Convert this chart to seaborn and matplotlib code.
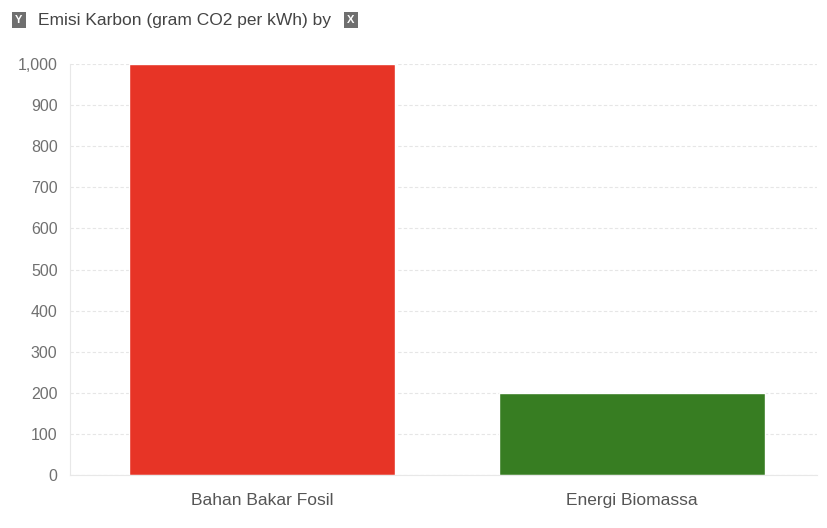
import matplotlib
matplotlib.use("Agg")
import matplotlib.pyplot as plt
import seaborn as sns
import pandas as pd
from matplotlib.ticker import FuncFormatter

categories = ["Bahan Bakar Fosil", "Energi Biomassa"]
emisi = [1000, 200]
colors = ["#E73426", "#377D22"]

df = pd.DataFrame({"sumber": categories, "emisi": emisi})

sns.set_style("white")
plt.rcParams['font.family'] = ['Liberation Sans', 'DejaVu Sans']

fig = plt.figure(figsize=(8.27, 5.28), dpi=100)
ax = fig.add_axes([70 / 827, 1 - 475 / 528, (817 - 70) / 827, (475 - 64) / 528])

sns.barplot(data=df, x="sumber", y="emisi", hue="sumber", palette=colors,
            width=0.72, saturation=1, legend=False, ax=ax)

ax.set_ylim(0, 1000)
ax.set_xlim(-0.519, 1.5)
ax.set_yticks(range(0, 1001, 100))
ax.yaxis.set_major_formatter(FuncFormatter(lambda v, p: f"{int(v):,}"))
ax.grid(axis="y", color="#e6e6e6", linestyle=(0, (3, 2)), linewidth=0.8)
ax.set_axisbelow(True)
for s in ["top", "right"]:
    ax.spines[s].set_visible(False)
ax.spines["left"].set_color("#e8e8e8")
ax.spines["bottom"].set_color("#e8e8e8")
ax.tick_params(axis="y", colors="#707070", labelsize=11.5, length=0, pad=9)
ax.tick_params(axis="x", colors="#555555", labelsize=12.5, length=0, pad=13)
ax.set_xlabel("")
ax.set_ylabel("")

# title with axis badges
fig.text(15 / 827, 1 - 20 / 528, "Y", fontsize=8, color="white", weight="bold",
         ha="left", va="center",
         bbox=dict(boxstyle="square,pad=0.3", fc="#6f6f6f", ec="none"))
fig.text(38 / 827, 1 - 20 / 528, "Emisi Karbon (gram CO2 per kWh) by", fontsize=12.5,
         color="#444444", ha="left", va="center")
fig.text(347 / 827, 1 - 20 / 528, "X", fontsize=8, color="white", weight="bold",
         ha="left", va="center",
         bbox=dict(boxstyle="square,pad=0.3", fc="#6f6f6f", ec="none"))

fig.savefig("out.png", dpi=100)
